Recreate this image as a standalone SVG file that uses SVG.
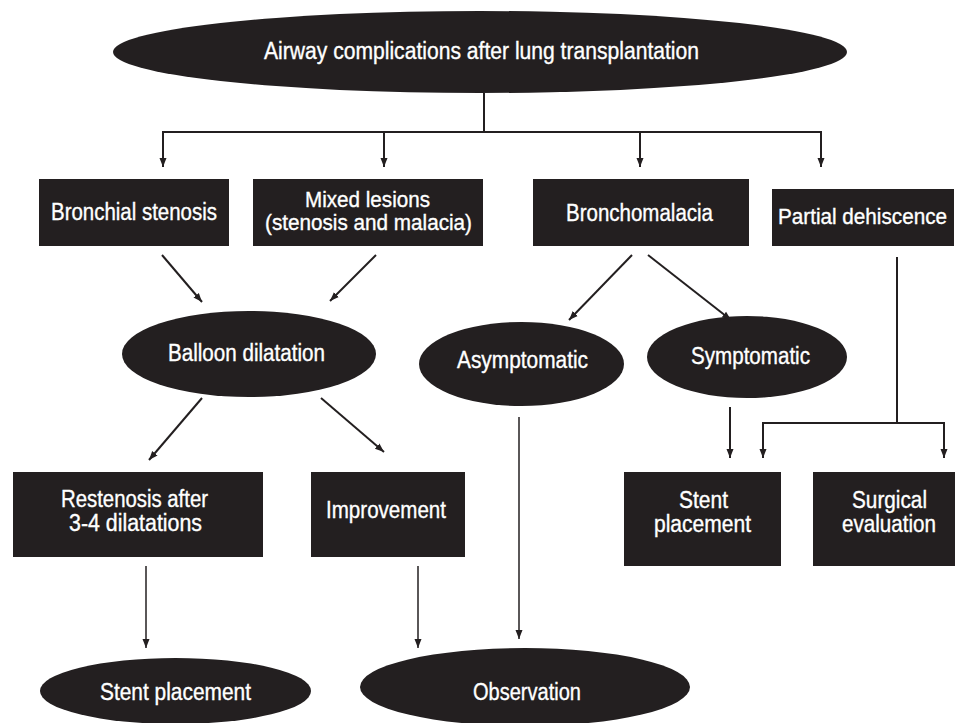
<svg xmlns="http://www.w3.org/2000/svg" width="959" height="723" viewBox="0 0 959 723">
<defs>
<style>
.n{fill:#231f20}
.t{fill:#ffffff;stroke:#ffffff;stroke-width:0.35;font-family:"Liberation Sans",Arial,sans-serif;font-size:23px;text-anchor:middle}
.s{font-size:22px}
.c{stroke:#231f20;stroke-width:2;fill:none;marker-end:url(#ah)}
.l{stroke:#231f20;stroke-width:2;fill:none}
</style>
<marker id="ah" markerUnits="userSpaceOnUse" markerWidth="10" markerHeight="10" viewBox="0 0 10 10" refX="9" refY="5" orient="auto">
<path d="M0,1.5 L9,5 L0,8.5 Z" fill="#231f20"/>
</marker>
</defs>
<rect width="959" height="723" fill="#ffffff"/>
<g id="root"><ellipse class="n" cx="480" cy="52" rx="367" ry="41"/><text class="t" x="481.5" y="59" textLength="435" lengthAdjust="spacingAndGlyphs">Airway complications after lung transplantation</text></g>
<g id="bronchial-stenosis"><rect class="n" x="39" y="179" width="190" height="67"/><text class="t" x="134" y="220" textLength="166" lengthAdjust="spacingAndGlyphs">Bronchial stenosis</text></g>
<g id="mixed-lesions"><rect class="n" x="253" y="179" width="230" height="67"/><text class="t s" x="367.5" y="207" textLength="125" lengthAdjust="spacingAndGlyphs">Mixed lesions</text><text class="t s" x="368.5" y="230" textLength="207" lengthAdjust="spacingAndGlyphs">(stenosis and malacia)</text></g>
<g id="bronchomalacia"><rect class="n" x="533" y="179" width="216" height="67"/><text class="t" x="639.5" y="221" textLength="147" lengthAdjust="spacingAndGlyphs">Bronchomalacia</text></g>
<g id="partial-dehiscence"><rect class="n" x="772" y="189" width="182" height="57"/><text class="t s" x="862.5" y="224" textLength="169" lengthAdjust="spacingAndGlyphs">Partial dehiscence</text></g>
<g id="balloon"><ellipse class="n" cx="249" cy="354" rx="127" ry="43"/><text class="t" x="246.5" y="361" textLength="157" lengthAdjust="spacingAndGlyphs">Balloon dilatation</text></g>
<g id="asymptomatic"><ellipse class="n" cx="521.5" cy="364" rx="102.5" ry="42"/><text class="t" x="522.5" y="368" textLength="131" lengthAdjust="spacingAndGlyphs">Asymptomatic</text></g>
<g id="symptomatic"><ellipse class="n" cx="747" cy="357" rx="100" ry="41"/><text class="t" x="750.5" y="364" textLength="119" lengthAdjust="spacingAndGlyphs">Symptomatic</text></g>
<g id="restenosis"><rect class="n" x="13" y="472" width="250" height="85"/><text class="t" x="134.5" y="507" textLength="147" lengthAdjust="spacingAndGlyphs">Restenosis after</text><text class="t" x="135.5" y="531" textLength="133" lengthAdjust="spacingAndGlyphs">3-4 dilatations</text></g>
<g id="improvement"><rect class="n" x="311" y="472" width="154" height="85"/><text class="t" x="386" y="518" textLength="120" lengthAdjust="spacingAndGlyphs">Improvement</text></g>
<g id="stent-box"><rect class="n" x="624" y="472" width="157" height="94"/><text class="t" x="703.5" y="508" textLength="49" lengthAdjust="spacingAndGlyphs">Stent</text><text class="t" x="702.5" y="532" textLength="97" lengthAdjust="spacingAndGlyphs">placement</text></g>
<g id="surgical"><rect class="n" x="813" y="472" width="142" height="94"/><text class="t" x="889.5" y="508" textLength="75" lengthAdjust="spacingAndGlyphs">Surgical</text><text class="t" x="889" y="532" textLength="94" lengthAdjust="spacingAndGlyphs">evaluation</text></g>
<g id="stent-ellipse"><ellipse class="n" cx="175.5" cy="691" rx="135.5" ry="33"/><text class="t" x="175.5" y="700" textLength="151" lengthAdjust="spacingAndGlyphs">Stent placement</text></g>
<g id="observation"><ellipse class="n" cx="525" cy="687" rx="165" ry="39"/><text class="t" x="527" y="700" textLength="108" lengthAdjust="spacingAndGlyphs">Observation</text></g>
<g id="connectors">
<path class="l" d="M484,93 V132 M163,132 H821"/>
<path class="c" d="M163,131 V167"/>
<path class="c" d="M384,131 V167"/>
<path class="c" d="M640,131 V167"/>
<path class="c" d="M821,131 V167"/>
<path class="c" d="M162,255 L202,302"/>
<path class="c" d="M376,255 L330,301"/>
<path class="c" d="M632,255 L569,320"/>
<path class="c" d="M648,255 L731,320"/>
<path class="c" d="M202,398 L149,460"/>
<path class="c" d="M321,398 L384,452"/>
<path class="l" d="M897,257 V423 M762,423 H945"/>
<path class="c" d="M763,422 V458"/>
<path class="c" d="M944,422 V458"/>
<path class="c" d="M730,407 V458"/>
<path class="c" d="M519,417 V639" style="stroke-width:1.5"/>
<path class="c" d="M146,566 V648" style="stroke-width:1.5"/>
<path class="c" d="M418,566 V648" style="stroke-width:1.5"/>
</g>
</svg>
